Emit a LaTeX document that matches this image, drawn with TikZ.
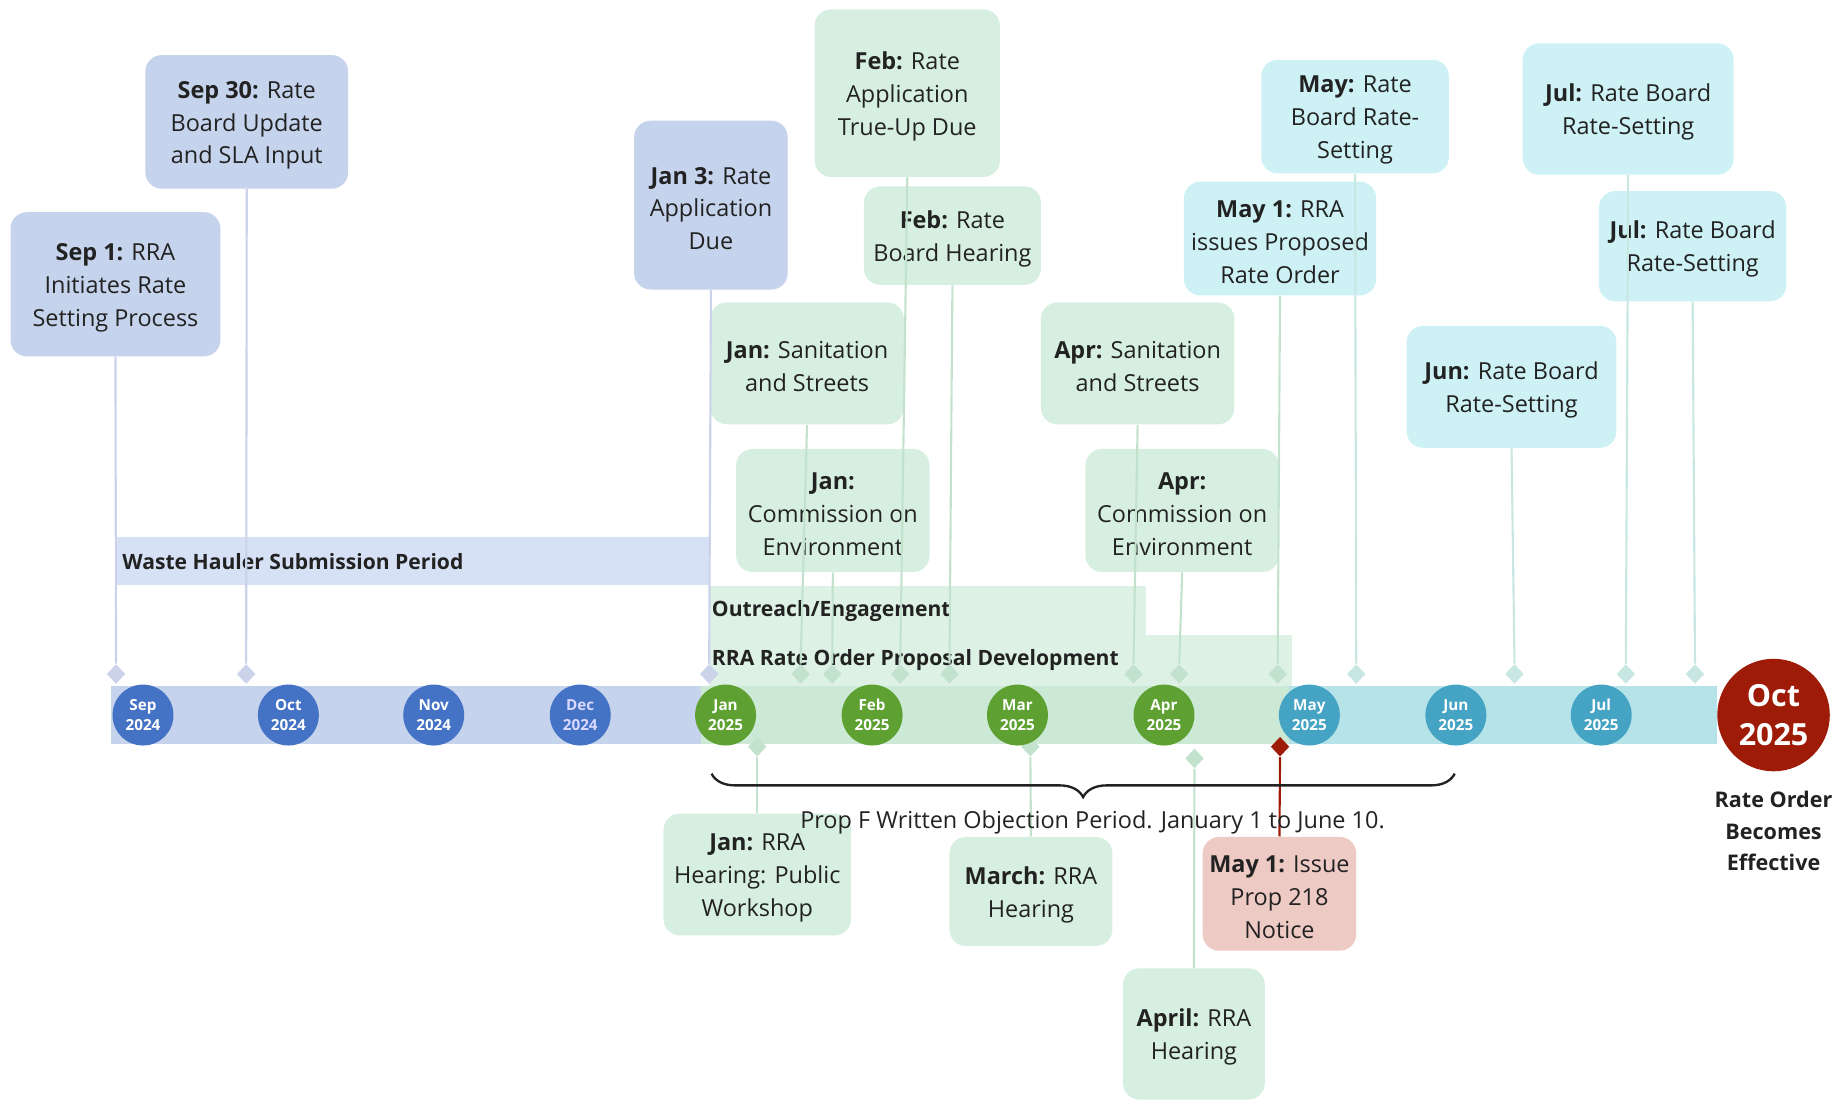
\documentclass[tikz,border=0pt]{standalone}
\usepackage{fontspec}
\setmainfont{Open Sans}
\usepackage{xcolor}
\usepackage{tikz}
\usetikzlibrary{
  arrows.meta,
  positioning,
  shapes.geometric,
  calc,
  decorations.pathreplacing,
}
\definecolor{inkdark}{HTML}{222222}
\definecolor{barblue}{HTML}{C5D3EC}
\definecolor{bargreen}{HTML}{CCE9D6}
\definecolor{barteal}{HTML}{B5E3E7}
\definecolor{dotblue}{HTML}{4472C4}
\definecolor{dotgreen}{HTML}{5EA132}
\definecolor{dotteal}{HTML}{45A3C4}
\definecolor{octred}{HTML}{9E1B08}
\definecolor{boxblue}{HTML}{C5D3EC}
\definecolor{boxgreen}{HTML}{D6EFE0}
\definecolor{boxteal}{HTML}{CDF1F4}
\definecolor{boxred}{HTML}{EECAC5}
\definecolor{bandblue}{HTML}{D7E1F5}
\definecolor{bandgreen}{HTML}{DDF1E5}
\definecolor{stemblue}{HTML}{CAD3EA}
\definecolor{stemgreen}{HTML}{C3E2CE}
\definecolor{stemteal}{HTML}{C8E7E3}

% bold date at the head of each event box
\newcommand{\evdate}[1]{\rule{0pt}{10.2pt}\textbf{#1}}

\tikzset{
  evbox/.style={rounded corners=7pt, inner sep=0pt, align=center, text=inkdark,
    font=\fontsize{10}{14}\selectfont},
  bluebox/.style={evbox, fill=boxblue},
  greenbox/.style={evbox, fill=boxgreen},
  tealbox/.style={evbox, fill=boxteal},
  redbox/.style={evbox, fill=boxred},
  mdot/.style={circle, inner sep=0pt, minimum size=26pt, text=white, align=center,
    font=\bfseries\fontsize{6.5}{8.5}\selectfont},
  dmd/.style={diamond, inner sep=0pt, minimum width=8pt, minimum height=8.5pt},
  stem/.style={line width=0.9pt},
  bandlabel/.style={anchor=west, inner sep=0pt, text=inkdark,
    font=\bfseries\fontsize{9}{11}\selectfont},
}

\begin{document}
\begin{tikzpicture}[x=0.5pt, y=-0.5pt]
  \useasboundingbox (0,0) rectangle (1568,938);

  % period bands
  \fill[bandblue] (100,458) rectangle (605,499);
  \node[bandlabel] (wastelbl) at (104,479) {Waste Hauler Submission Period};
  \fill[bandgreen] (605,500) rectangle (978,585);
  \fill[bandgreen] (605,542) rectangle (1102,585);
  \node[bandlabel] (outlbl) at (607,521) {Outreach/Engagement};
  \node[bandlabel] (rralbl) at (607,563) {RRA Rate Order Proposal Development};

  % timeline bar
  \fill[barblue] (95,585) rectangle (605,635);
  \fill[bargreen] (598,585) rectangle (1100,635);
  \fill[barteal] (1100,585) rectangle (1465,635);

  % events above the line
  \node[bluebox, minimum width=89.5pt, minimum height=61.5pt] (sepone) at (98.5,242.5)
    {\evdate{Sep 1:} RRA\\Initiates Rate\\Setting Process};
  \node[bluebox, minimum width=86.5pt, minimum height=57pt] (septhirty) at (210.5,104)
    {\evdate{Sep 30:} Rate\\Board Update\\and SLA Input};
  \node[bluebox, minimum width=65.5pt, minimum height=72pt] (janthree) at (606.5,175)
    {\evdate{Jan 3:} Rate\\Application\\Due};
  \node[greenbox, minimum width=79pt, minimum height=71.5pt] (febtrue) at (774,79.5)
    {\evdate{Feb:} Rate\\Application\\True-Up Due};
  \node[greenbox, minimum width=75.5pt, minimum height=42pt] (febhear) at (812.5,201)
    {\evdate{Feb:} Rate\\Board Hearing};
  \node[greenbox, minimum width=82.5pt, minimum height=52pt] (jansan) at (688.5,310)
    {\evdate{Jan:} Sanitation\\and Streets};
  \node[greenbox, minimum width=82.5pt, minimum height=52.5pt] (jancom) at (710.5,435.5)
    {\evdate{Jan:}\\Commission on\\Environment};
  \node[greenbox, minimum width=82.5pt, minimum height=52pt] (aprsan) at (970.5,310)
    {\evdate{Apr:} Sanitation\\and Streets};
  \node[greenbox, minimum width=82.5pt, minimum height=52.5pt] (aprcom) at (1008.5,435.5)
    {\evdate{Apr:}\\Commission on\\Environment};
  \node[tealbox, minimum width=80pt, minimum height=48.5pt] (mayrate) at (1156,99.5)
    {\evdate{May:} Rate\\Board Rate-\\Setting};
  \node[tealbox, minimum width=82pt, minimum height=48.5pt] (mayone) at (1092,203.5)
    {\evdate{May 1:} RRA\\issues Proposed\\Rate Order};
  \node[tealbox, minimum width=90pt, minimum height=56pt] (julone) at (1389,93)
    {\evdate{Jul:} Rate Board\\Rate-Setting};
  \node[tealbox, minimum width=80pt, minimum height=47pt] (jultwo) at (1444,210)
    {\evdate{Jul:} Rate Board\\Rate-Setting};
  \node[tealbox, minimum width=89.5pt, minimum height=52pt] (junrate) at (1289.5,330)
    {\evdate{Jun:} Rate Board\\Rate-Setting};

  % events below the line
  \node[greenbox, minimum width=80pt, minimum height=52pt] (janhear) at (646,746)
    {\evdate{Jan:} RRA\\Hearing: Public\\Workshop};
  \node[greenbox, minimum width=69.5pt, minimum height=46.5pt] (marhear) at (879.5,760.5)
    {\evdate{March:} RRA\\Hearing};
  \node[greenbox, minimum width=60.5pt, minimum height=56pt] (aprhear) at (1018.5,882)
    {\evdate{April:} RRA\\Hearing};
  \node[redbox, minimum width=65.5pt, minimum height=48.5pt] (mayissue) at (1091.5,762.5)
    {\evdate{May 1:} Issue\\Prop 218\\Notice};

  % markers on the line
  \node[dmd, fill=stemblue] (dsepone) at (99,575) {};
  \node[dmd, fill=stemblue] (dsepthirty) at (210,575) {};
  \node[dmd, fill=stemblue] (djanthree) at (605,575) {};
  \node[dmd, fill=stemgreen] (djansan) at (683,575) {};
  \node[dmd, fill=stemgreen] (djancom) at (710,575) {};
  \node[dmd, fill=stemgreen] (dfebtrue) at (768,575) {};
  \node[dmd, fill=stemgreen] (dfebhear) at (810,575) {};
  \node[dmd, fill=stemgreen] (daprsan) at (967,575) {};
  \node[dmd, fill=stemgreen] (daprcom) at (1006,575) {};
  \node[dmd, fill=stemgreen] (dmayone) at (1090,575) {};
  \node[dmd, fill=stemteal] (dmayrate) at (1157,575) {};
  \node[dmd, fill=stemteal] (djunrate) at (1292,575) {};
  \node[dmd, fill=stemteal] (djulone) at (1387,575) {};
  \node[dmd, fill=stemteal] (djultwo) at (1446,575) {};
  \node[dmd, fill=stemgreen] (djanhear) at (646,637) {};
  \node[dmd, fill=stemgreen] (dmarhear) at (879,637) {};
  \node[dmd, fill=stemgreen] (daprhear) at (1019,647) {};
  \node[dmd, fill=octred] (dmayissue) at (1092,637) {};

  % stems
  \draw[stem, stemblue] (sepone.south) -- (dsepone.north);
  \draw[stem, stemblue] (septhirty.south) -- (dsepthirty.north);
  \draw[stem, stemblue] (janthree.south) -- (djanthree.north);
  \draw[stem, stemgreen] (jansan.south) -- (djansan.north);
  \draw[stem, stemgreen] (jancom.south) -- (djancom.north);
  \draw[stem, stemgreen] (febtrue.south) -- (dfebtrue.north);
  \draw[stem, stemgreen] (febhear.south) -- (dfebhear.north);
  \draw[stem, stemgreen] (aprsan.south) -- (daprsan.north);
  \draw[stem, stemgreen] (aprcom.south) -- (daprcom.north);
  \draw[stem, stemgreen] (mayone.south) -- (dmayone.north);
  \draw[stem, stemteal] (mayrate.south) -- (dmayrate.north);
  \draw[stem, stemteal] (junrate.south) -- (djunrate.north);
  \draw[stem, stemteal] (julone.south) -- (djulone.north);
  \draw[stem, stemteal] (jultwo.south) -- (djultwo.north);
  \draw[stem, stemgreen] (djanhear.south) -- (janhear.north);
  \draw[stem, stemgreen] (dmarhear.south) -- (marhear.north);
  \draw[stem, stemgreen] (daprhear.south) -- (aprhear.north);
  \draw[stem, octred] (dmayissue.south) -- (mayissue.north);

  % months
  \node[mdot, fill=dotblue] (msep) at (122,610) {Sep\\2024};
  \node[mdot, fill=dotblue] (moct) at (246,610) {Oct\\2024};
  \node[mdot, fill=dotblue] (mnov) at (370,610) {Nov\\2024};
  \node[mdot, fill=dotblue, text=blue!15] (mdec) at (495,610) {Dec\\2024};
  \node[mdot, fill=dotgreen] (mjan) at (619,610) {Jan\\2025};
  \node[mdot, fill=dotgreen] (mfeb) at (744,610) {Feb\\2025};
  \node[mdot, fill=dotgreen] (mmar) at (868,610) {Mar\\2025};
  \node[mdot, fill=dotgreen] (mapr) at (993,610) {Apr\\2025};
  \node[mdot, fill=dotteal] (mmay) at (1117,610) {May\\2025};
  \node[mdot, fill=dotteal] (mjun) at (1242,610) {Jun\\2025};
  \node[mdot, fill=dotteal] (mjul) at (1366,610) {Jul\\2025};
  \node[circle, fill=octred, inner sep=0pt, minimum size=48pt, text=white, align=center,
    font=\bfseries\fontsize{13}{17}\selectfont] (moctend) at (1513,610) {Oct\\2025};
  \node[align=center, text=inkdark, inner sep=0pt, font=\bfseries\fontsize{9.2}{13.5}\selectfont]
    (effective) at (1513,709) {Rate Order\\Becomes\\Effective};

  % objection period
  \coordinate (bracel) at (607,660);
  \coordinate (bracer) at (1241,660);
  \draw[inkdark, line width=1pt, decorate, decoration={brace, mirror, amplitude=10pt}]
    (bracel) -- (bracer);
  \node[text=inkdark, inner sep=0pt, font=\fontsize{10}{12}\selectfont] (objlbl) at (932,702)
    {Prop F Written Objection Period. January 1 to June 10.};
\end{tikzpicture}
\end{document}
